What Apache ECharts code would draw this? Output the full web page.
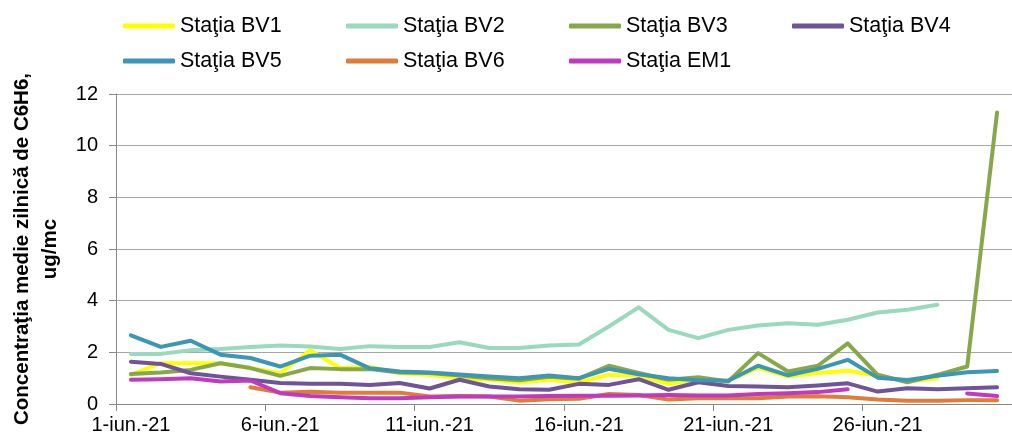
<!DOCTYPE html>
<html>
<head>
<meta charset="utf-8">
<script src="https://cdn.jsdelivr.net/npm/echarts@6/dist/echarts.min.js"></script>
<style>
    html, body { margin: 0; padding: 0; background: #fff; }
    #chart { width: 1012px; height: 436px; }
</style>
</head>
<body>
<div id="chart"></div>
<script>
// zilele lunii iunie 2021
var days = [];
for (var i = 1; i <= 30; i++) {
    days.push(i + '-iun.-21');
}

// valori (ug/mc)
var bv1 = [1.13, 1.58, 1.58, 1.58, 1.39, 1.19, 2.08, 1.39, 1.43, 1.19, 1.13, 1.0, 0.94, 0.83, 0.94, 0.83, 1.13, 1.09, 0.78, 0.94, 0.9, 1.4, 1.06, 1.2, 1.29, 1.09, 0.87, 1.0, null, null];
var bv2 = [1.94, 1.94, 2.08, 2.13, 2.21, 2.26, 2.23, 2.13, 2.24, 2.21, 2.21, 2.39, 2.17, 2.17, 2.26, 2.3, 3.0, 3.74, 2.87, 2.55, 2.87, 3.04, 3.13, 3.07, 3.26, 3.54, 3.65, 3.84, null, null];
var bv3 = [1.16, 1.22, 1.32, 1.58, 1.39, 1.09, 1.39, 1.35, 1.35, 1.22, 1.2, 1.1, 1.0, 0.92, 1.05, 0.98, 1.48, 1.2, 0.94, 1.04, 0.87, 1.97, 1.26, 1.48, 2.35, 1.13, 0.84, 1.13, 1.45, 11.28];
var bv4 = [1.64, 1.55, 1.19, 1.06, 0.94, 0.81, 0.78, 0.78, 0.74, 0.81, 0.6, 0.94, 0.68, 0.57, 0.55, 0.78, 0.74, 0.96, 0.55, 0.84, 0.7, 0.68, 0.65, 0.72, 0.8, 0.48, 0.61, 0.57, 0.61, 0.65];
var bv5 = [2.66, 2.21, 2.45, 1.91, 1.78, 1.45, 1.87, 1.91, 1.38, 1.26, 1.22, 1.14, 1.06, 1.0, 1.1, 1.0, 1.36, 1.15, 1.0, 0.92, 0.9, 1.48, 1.11, 1.36, 1.71, 1.02, 0.93, 1.09, 1.23, 1.28];
var bv6 = [null, null, null, null, 0.65, 0.44, 0.47, 0.44, 0.44, 0.44, 0.29, 0.31, 0.29, 0.13, 0.18, 0.2, 0.39, 0.35, 0.17, 0.22, 0.22, 0.22, 0.29, 0.3, 0.26, 0.17, 0.13, 0.13, 0.15, 0.15];
var em1 = [0.94, 0.96, 1.0, 0.87, 0.91, 0.42, 0.31, 0.26, 0.22, 0.22, 0.26, 0.29, 0.29, 0.29, 0.31, 0.32, 0.32, 0.33, 0.35, 0.33, 0.33, 0.39, 0.42, 0.46, 0.57, null, null, null, 0.41, 0.31];

var names = ['Staţia BV1', 'Staţia BV2', 'Staţia BV3', 'Staţia BV4', 'Staţia BV5', 'Staţia BV6', 'Staţia EM1'];
var colors = ['#ffff00', '#99d9bd', '#86a84a', '#6f5497', '#3c96b4', '#e07b39', '#c03ac0'];
var yTicks = [0, 2, 4, 6, 8, 10, 12];

function drawChart() {
    var chart = echarts.init(document.getElementById('chart'));
    var font = 'Liberation Sans, Arial, sans-serif';
    var allData = [bv1, bv2, bv3, bv4, bv5, bv6, em1];

    var series = [];
    for (var k = 0; k < names.length; k++) {
        series.push({
            name: names[k],
            type: 'line',
            data: allData[k],
            symbol: 'none',
            connectNulls: false,
            lineStyle: { width: 4, color: colors[k], cap: 'round', join: 'round' },
            itemStyle: { color: colors[k] }
        });
    }

    // doua randuri de legenda, ca in original
    var legendBase = {
        left: 118,
        orient: 'horizontal',
        icon: 'roundRect',
        itemWidth: 52,
        itemHeight: 5,
        itemGap: 16,
        textStyle: { fontFamily: font, fontSize: 21.5, color: '#000', width: 150, lineHeight: 22 }
    };

    var option = {
        animation: false,
        color: colors,
        legend: [
            Object.assign({}, legendBase, { top: 10, data: names.slice(0, 4) }),
            Object.assign({}, legendBase, { top: 45, data: names.slice(4) })
        ],
        grid: {
            left: 112,
            top: 94,
            width: 909,
            height: 310,
            containLabel: false
        },
        xAxis: {
            type: 'category',
            boundaryGap: true,
            data: days,
            axisLine: { lineStyle: { color: '#888', width: 1 } },
            axisTick: { show: true, interval: 4, length: 7, lineStyle: { color: '#888' } },
            axisLabel: { interval: 4, margin: 11, fontFamily: font, fontSize: 20, color: '#000' },
            splitLine: { show: false }
        },
        yAxis: {
            type: 'value',
            min: yTicks[0],
            max: yTicks[yTicks.length - 1],
            interval: 2,
            name: 'Concentraţia medie zilnică de C6H6,\nug/mc',
            nameLocation: 'middle',
            nameRotate: 90,
            nameGap: 52,
            nameTextStyle: { fontFamily: font, fontSize: 20.5, fontWeight: 'bold', color: '#000', lineHeight: 28, align: 'center' },
            axisLine: { show: true, lineStyle: { color: '#888', width: 1 } },
            axisTick: { show: true, length: 7, lineStyle: { color: '#888' } },
            axisLabel: { margin: 18, fontFamily: font, fontSize: 20, color: '#000' },
            splitLine: { show: true, lineStyle: { color: '#a6a6a6', width: 1 } }
        },
        series: series
    };

    chart.setOption(option);
}

drawChart();
</script>
</body>
</html>
